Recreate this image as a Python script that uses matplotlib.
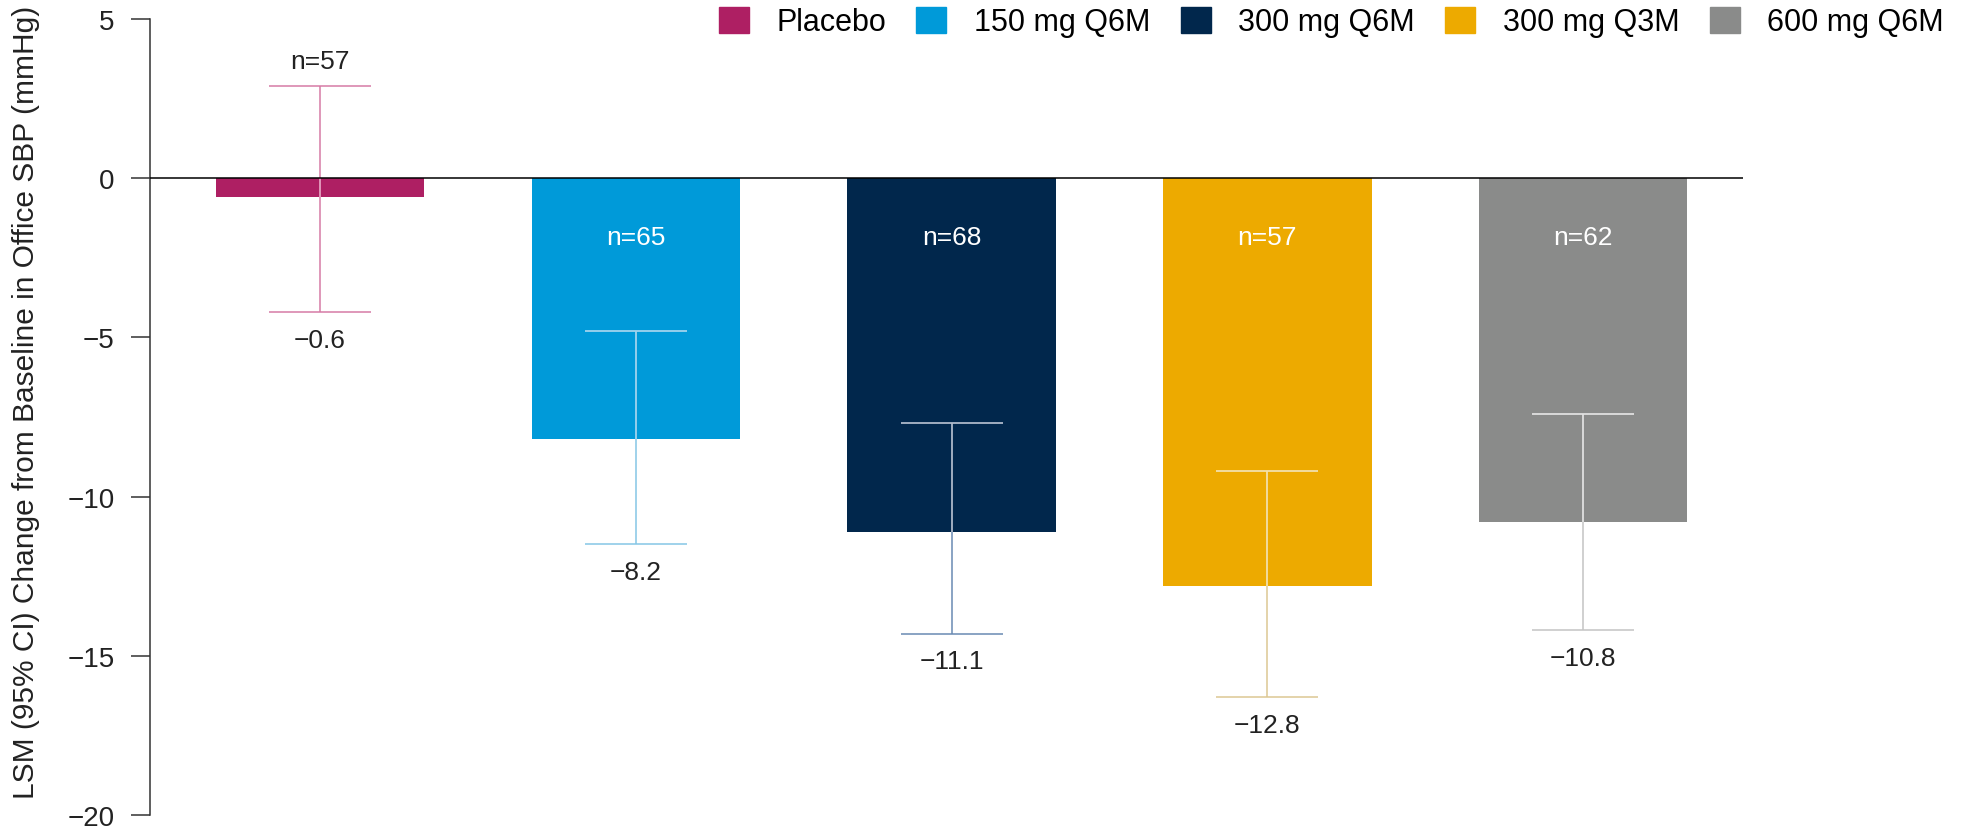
import matplotlib
matplotlib.use('agg')
import matplotlib.pyplot as plt
import numpy as np

plt.rcParams['font.family'] = ['Liberation Sans', 'DejaVu Sans']

# data
groups = ['Placebo', '150 mg Q6M', '300 mg Q6M', '300 mg Q3M', '600 mg Q6M']
lsm = [-0.6, -8.2, -11.1, -12.8, -10.8]
ci_low = [-4.2, -11.5, -14.3, -16.3, -14.2]
ci_high = [2.9, -4.8, -7.7, -9.2, -7.4]
n_pat = [57, 65, 68, 57, 62]

bar_cols = ['#ae1f63', '#009ad9', '#01274c', '#edaa00', '#8a8b8a']
err_out = ['#d67aa6', '#85c6e6', '#6a8ab3', '#dcc793', '#c4c4c4']
err_in = ['#e6a3c2', '#9ed3ee', '#b4bcc8', '#f7e3a8', '#e2e2e2']

txt = '#222222'

fig = plt.figure(figsize=(19.7, 8.29), dpi=100)
ax = fig.add_axes([150/1970, 13/829, 1593/1970, 796/829])

x = np.arange(len(groups))
bars = ax.bar(x, lsm, width=0.66, color=bar_cols, zorder=2)

for i in range(len(groups)):
    yerr = [[lsm[i] - ci_low[i]], [ci_high[i] - lsm[i]]]
    ax.errorbar(x[i], lsm[i], yerr=yerr, fmt='none', ecolor=err_out[i],
                elinewidth=1.1, capsize=37, capthick=1.1, zorder=3)
    # lighter part where the error bar sits over the bar
    cont = ax.errorbar(x[i], lsm[i], yerr=yerr, fmt='none', ecolor=err_in[i],
                       elinewidth=1.1, capsize=37, capthick=1.1, zorder=4)
    for art in list(cont[1]) + list(cont[2]):
        art.set_clip_path(bars[i])

    # value below the lower CI
    ax.annotate(f'\u2212{abs(lsm[i]):.1f}', (x[i], ci_low[i]), xytext=(0, -20),
                textcoords='offset points', ha='center', va='center',
                fontsize=19, color=txt)
    # n labels
    if i == 0:
        ax.annotate(f'n={n_pat[i]}', (x[i], ci_high[i]), xytext=(0, 18),
                    textcoords='offset points', ha='center', va='center',
                    fontsize=19, color=txt)
    else:
        ax.text(x[i], -1.85, f'n={n_pat[i]}', ha='center', va='center',
                fontsize=19, color='white', zorder=5)

ax.axhline(0, color='black', lw=1.1, zorder=5)

ax.set_xlim(-0.538, 4.506)
ax.set_ylim(-20, 5)
ax.set_yticks([5, 0, -5, -10, -15, -20])
ax.set_yticklabels(['5', '0', '\u22125', '\u221210', '\u221215', '\u221220'])
ax.set_xticks([])
for s in ['top', 'right', 'bottom']:
    ax.spines[s].set_visible(False)
ax.spines['left'].set_color('#333333')
ax.spines['left'].set_linewidth(1.1)
ax.tick_params(axis='y', length=13.5, width=1.1, color='#333333', pad=12,
               labelsize=20, labelcolor=txt)

ax.set_ylabel('LSM (95% CI) Change from Baseline in Office SBP (mmHg)',
              fontsize=21.5, color=txt)
ax.yaxis.set_label_coords(-0.069, 0.52)

handles = [plt.Rectangle((0, 0), 1, 1, color=c) for c in bar_cols]
fig.legend(handles, groups, loc='center right', ncol=5, frameon=False,
           bbox_to_anchor=(1944/1970, 1 - 23/829), fontsize=22,
           handlelength=0.98, handleheight=0.98, handletextpad=0.9,
           columnspacing=1.0, borderpad=0, borderaxespad=0)

fig.savefig('out.png', dpi=100)
